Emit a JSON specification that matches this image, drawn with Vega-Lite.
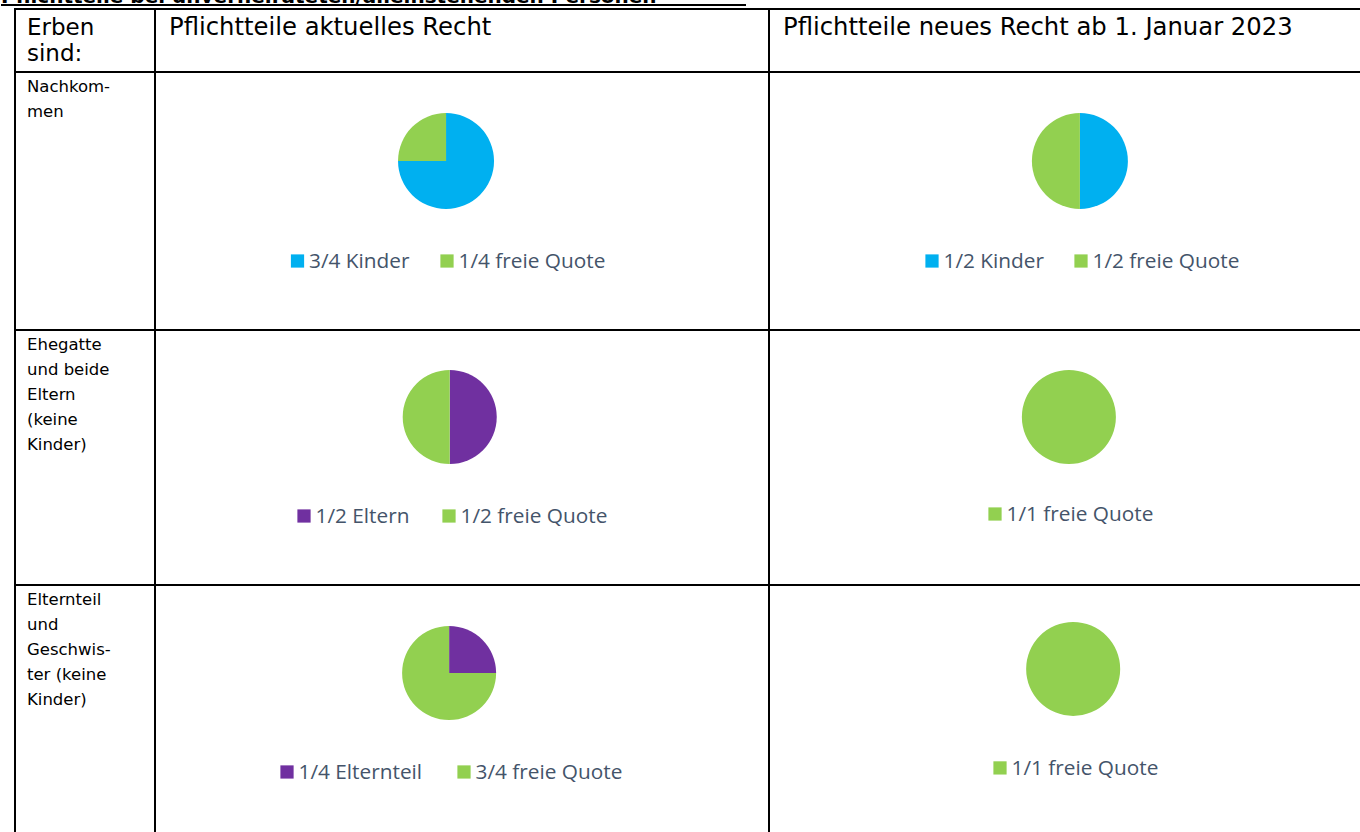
{
  "$schema": "https://vega.github.io/schema/vega-lite/v6.json",
  "padding": {"left": 0, "top": 0, "right": 0, "bottom": 0},
  "background": "#ffffff",
  "datasets": {
    "anteile": [
      {"erben": "Nachkommen", "recht": "aktuell", "nr": 1, "gruppe": "Kinder", "legende": "3/4 Kinder", "anteil": 0.75},
      {"erben": "Nachkommen", "recht": "aktuell", "nr": 2, "gruppe": "freie Quote", "legende": "1/4 freie Quote", "anteil": 0.25},
      {"erben": "Nachkommen", "recht": "neu", "nr": 1, "gruppe": "Kinder", "legende": "1/2 Kinder", "anteil": 0.5},
      {"erben": "Nachkommen", "recht": "neu", "nr": 2, "gruppe": "freie Quote", "legende": "1/2 freie Quote", "anteil": 0.5},
      {"erben": "Eltern", "recht": "aktuell", "nr": 1, "gruppe": "Eltern", "legende": "1/2 Eltern", "anteil": 0.5},
      {"erben": "Eltern", "recht": "aktuell", "nr": 2, "gruppe": "freie Quote", "legende": "1/2 freie Quote", "anteil": 0.5},
      {"erben": "Eltern", "recht": "neu", "nr": 1, "gruppe": "freie Quote", "legende": "1/1 freie Quote", "anteil": 1},
      {"erben": "Elternteil", "recht": "aktuell", "nr": 1, "gruppe": "Elternteil", "legende": "1/4 Elternteil", "anteil": 0.25},
      {"erben": "Elternteil", "recht": "aktuell", "nr": 2, "gruppe": "freie Quote", "legende": "3/4 freie Quote", "anteil": 0.75},
      {"erben": "Elternteil", "recht": "neu", "nr": 1, "gruppe": "freie Quote", "legende": "1/1 freie Quote", "anteil": 1}
    ]
  },
  "spacing": 4,
  "bounds": "flush",
  "vconcat": [
    {
      "width": 745,
      "height": 5,
      "view": {"stroke": null},
      "data": {"values": [{"titel": "Pflichtteile bei unverheirateten/alleinstehenden Personen"}]},
      "layer": [
        {
          "mark": {"type": "text", "clip": true, "align": "left", "baseline": "alphabetic", "font": "DejaVu Sans", "fontWeight": "bold", "fontSize": 20, "dy": -2, "color": "#000000"},
          "encoding": {
            "text": {"field": "titel"},
            "x": {"datum": 0, "type": "quantitative", "scale": {"domain": [0, 1]}, "axis": null},
            "y": {"datum": 0, "type": "quantitative", "scale": {"domain": [0, 1]}, "axis": null}
          }
        },
        {
          "mark": {"type": "rule", "strokeWidth": 2, "color": "#000000"},
          "encoding": {
            "y": {"datum": 0, "type": "quantitative", "scale": {"domain": [0, 1]}, "axis": null}
          }
        }
      ]
    },
    {
      "spacing": 0,
      "bounds": "flush",
      "hconcat": [
        {
          "width": 14,
          "height": 10,
          "view": {"stroke": null},
          "data": {"values": [{"leer": ""}]},
          "mark": {"type": "text"},
          "encoding": {"text": {"field": "leer"}}
        },
        {
          "columns": 3,
          "spacing": 0,
          "bounds": "flush",
          "align": "each",
          "concat": [
            {
              "width": 140, "height": 63,
              "data": {"values": [{"kopf": "Erben\nsind:"}]},
              "mark": {"type": "text", "align": "left", "baseline": "alphabetic", "font": "DejaVu Sans", "fontSize": 23, "lineHeight": 25.5, "lineBreak": "\n", "dx": 12, "dy": 26, "color": "#000000"},
              "encoding": {
                "text": {"field": "kopf"},
                "x": {"datum": 0, "type": "quantitative", "scale": {"domain": [0, 1]}, "axis": null},
                "y": {"datum": 1, "type": "quantitative", "scale": {"domain": [0, 1]}, "axis": null}
              }
            },
            {
              "width": 614, "height": 63,
              "data": {"values": [{"kopf": "Pflichtteile aktuelles Recht"}]},
              "mark": {"type": "text", "align": "left", "baseline": "alphabetic", "font": "DejaVu Sans", "fontSize": 24.3, "dx": 14, "dy": 26, "color": "#000000"},
              "encoding": {
                "text": {"field": "kopf"},
                "x": {"datum": 0, "type": "quantitative", "scale": {"domain": [0, 1]}, "axis": null},
                "y": {"datum": 1, "type": "quantitative", "scale": {"domain": [0, 1]}, "axis": null}
              }
            },
            {
              "width": 612, "height": 63,
              "data": {"values": [{"kopf": "Pflichtteile neues Recht ab 1. Januar 2023"}]},
              "mark": {"type": "text", "align": "left", "baseline": "alphabetic", "font": "DejaVu Sans", "fontSize": 24.3, "dx": 14, "dy": 26, "color": "#000000"},
              "encoding": {
                "text": {"field": "kopf"},
                "x": {"datum": 0, "type": "quantitative", "scale": {"domain": [0, 1]}, "axis": null},
                "y": {"datum": 1, "type": "quantitative", "scale": {"domain": [0, 1]}, "axis": null}
              }
            },
            {
              "width": 140, "height": 258,
              "data": {"values": [{"zeile": "Nachkom-\nmen"}]},
              "mark": {"type": "text", "align": "left", "baseline": "alphabetic", "font": "DejaVu Sans", "fontSize": 16.5, "lineHeight": 25, "lineBreak": "\n", "dx": 12, "dy": 20, "color": "#000000"},
              "encoding": {
                "text": {"field": "zeile"},
                "x": {"datum": 0, "type": "quantitative", "scale": {"domain": [0, 1]}, "axis": null},
                "y": {"datum": 1, "type": "quantitative", "scale": {"domain": [0, 1]}, "axis": null}
              }
            },
            {
              "width": 614, "height": 258,
              "data": {"name": "anteile"},
              "transform": [{"filter": "datum.erben === 'Nachkommen' && datum.recht === 'aktuell'"}],
              "resolve": {"scale": {"x": "independent"}},
              "layer": [
                {
                  "mark": {"type": "arc", "radius": 48},
                  "encoding": {
                    "theta": {"field": "anteil", "type": "quantitative", "stack": true},
                    "order": {"field": "nr", "type": "quantitative"},
                    "color": {"field": "gruppe", "type": "nominal", "scale": {"domain": ["Kinder", "Eltern", "Elternteil", "freie Quote"], "range": ["#00B0F0", "#7030A0", "#7030A0", "#92D050"]}, "legend": null},
                    "x": {"datum": "Diagramm", "type": "nominal", "scale": {"type": "point", "align": 0.474}, "axis": null},
                    "y": {"datum": "Diagramm", "type": "nominal", "scale": {"type": "point", "domain": ["Diagramm", "Legende"], "padding": 0.79, "align": 0.5633}, "axis": null}
                  }
                },
                {
                  "mark": {"type": "point", "shape": "square", "filled": true, "size": 175, "opacity": 1, "strokeWidth": 0},
                  "encoding": {
                    "x": {"field": "nr", "type": "quantitative", "scale": {"domain": [0.0468, 4.1538], "zero": false, "nice": false}, "axis": null},
                    "y": {"datum": "Legende", "type": "nominal", "axis": null},
                    "color": {"field": "gruppe", "type": "nominal", "legend": null}
                  }
                },
                {
                  "mark": {"type": "text", "align": "left", "baseline": "alphabetic", "dx": 11.5, "dy": 7, "font": "Open Sans", "fontSize": 20.8, "color": "#44546A"},
                  "encoding": {
                    "x": {"field": "nr", "type": "quantitative", "scale": {"domain": [0.0468, 4.1538], "zero": false, "nice": false}, "axis": null},
                    "y": {"datum": "Legende", "type": "nominal", "axis": null},
                    "text": {"field": "legende"}
                  }
                }
              ]
            },
            {
              "width": 612, "height": 258,
              "data": {"name": "anteile"},
              "transform": [{"filter": "datum.erben === 'Nachkommen' && datum.recht === 'neu'"}],
              "resolve": {"scale": {"x": "independent"}},
              "layer": [
                {
                  "mark": {"type": "arc", "radius": 48},
                  "encoding": {
                    "theta": {"field": "anteil", "type": "quantitative", "stack": true},
                    "order": {"field": "nr", "type": "quantitative"},
                    "color": {"field": "gruppe", "type": "nominal", "scale": {"domain": ["Kinder", "Eltern", "Elternteil", "freie Quote"], "range": ["#00B0F0", "#7030A0", "#7030A0", "#92D050"]}, "legend": null},
                    "x": {"datum": "Diagramm", "type": "nominal", "scale": {"type": "point", "align": 0.508}, "axis": null},
                    "y": {"datum": "Diagramm", "type": "nominal", "scale": {"type": "point", "domain": ["Diagramm", "Legende"], "padding": 0.79, "align": 0.5633}, "axis": null}
                  }
                },
                {
                  "mark": {"type": "point", "shape": "square", "filled": true, "size": 175, "opacity": 1, "strokeWidth": 0},
                  "encoding": {
                    "x": {"field": "nr", "type": "quantitative", "scale": {"domain": [-0.094, 4.0134], "zero": false, "nice": false}, "axis": null},
                    "y": {"datum": "Legende", "type": "nominal", "axis": null},
                    "color": {"field": "gruppe", "type": "nominal", "legend": null}
                  }
                },
                {
                  "mark": {"type": "text", "align": "left", "baseline": "alphabetic", "dx": 11.5, "dy": 7, "font": "Open Sans", "fontSize": 20.8, "color": "#44546A"},
                  "encoding": {
                    "x": {"field": "nr", "type": "quantitative", "scale": {"domain": [-0.094, 4.0134], "zero": false, "nice": false}, "axis": null},
                    "y": {"datum": "Legende", "type": "nominal", "axis": null},
                    "text": {"field": "legende"}
                  }
                }
              ]
            },
            {
              "width": 140, "height": 255,
              "data": {"values": [{"zeile": "Ehegatte\nund beide\nEltern\n(keine\nKinder)"}]},
              "mark": {"type": "text", "align": "left", "baseline": "alphabetic", "font": "DejaVu Sans", "fontSize": 16.5, "lineHeight": 25, "lineBreak": "\n", "dx": 12, "dy": 20, "color": "#000000"},
              "encoding": {
                "text": {"field": "zeile"},
                "x": {"datum": 0, "type": "quantitative", "scale": {"domain": [0, 1]}, "axis": null},
                "y": {"datum": 1, "type": "quantitative", "scale": {"domain": [0, 1]}, "axis": null}
              }
            },
            {
              "width": 614, "height": 255,
              "data": {"name": "anteile"},
              "transform": [{"filter": "datum.erben === 'Eltern' && datum.recht === 'aktuell'"}],
              "resolve": {"scale": {"x": "independent"}},
              "layer": [
                {
                  "mark": {"type": "arc", "radius": 47},
                  "encoding": {
                    "theta": {"field": "anteil", "type": "quantitative", "stack": true},
                    "order": {"field": "nr", "type": "quantitative"},
                    "color": {"field": "gruppe", "type": "nominal", "scale": {"domain": ["Kinder", "Eltern", "Elternteil", "freie Quote"], "range": ["#00B0F0", "#7030A0", "#7030A0", "#92D050"]}, "legend": null},
                    "x": {"datum": "Diagramm", "type": "nominal", "scale": {"type": "point", "align": 0.48}, "axis": null},
                    "y": {"datum": "Diagramm", "type": "nominal", "scale": {"type": "point", "domain": ["Diagramm", "Legende"], "padding": 0.788, "align": 0.5577}, "axis": null}
                  }
                },
                {
                  "mark": {"type": "point", "shape": "square", "filled": true, "size": 175, "opacity": 1, "strokeWidth": 0},
                  "encoding": {
                    "x": {"field": "nr", "type": "quantitative", "scale": {"domain": [-0.0276, 4.2069], "zero": false, "nice": false}, "axis": null},
                    "y": {"datum": "Legende", "type": "nominal", "axis": null},
                    "color": {"field": "gruppe", "type": "nominal", "legend": null}
                  }
                },
                {
                  "mark": {"type": "text", "align": "left", "baseline": "alphabetic", "dx": 11.5, "dy": 7, "font": "Open Sans", "fontSize": 20.8, "color": "#44546A"},
                  "encoding": {
                    "x": {"field": "nr", "type": "quantitative", "scale": {"domain": [-0.0276, 4.2069], "zero": false, "nice": false}, "axis": null},
                    "y": {"datum": "Legende", "type": "nominal", "axis": null},
                    "text": {"field": "legende"}
                  }
                }
              ]
            },
            {
              "width": 612, "height": 255,
              "data": {"name": "anteile"},
              "transform": [{"filter": "datum.erben === 'Eltern' && datum.recht === 'neu'"}],
              "resolve": {"scale": {"x": "independent"}},
              "layer": [
                {
                  "mark": {"type": "arc", "radius": 47},
                  "encoding": {
                    "theta": {"field": "anteil", "type": "quantitative", "stack": true},
                    "order": {"field": "nr", "type": "quantitative"},
                    "color": {"field": "gruppe", "type": "nominal", "scale": {"domain": ["Kinder", "Eltern", "Elternteil", "freie Quote"], "range": ["#00B0F0", "#7030A0", "#7030A0", "#92D050"]}, "legend": null},
                    "x": {"datum": "Diagramm", "type": "nominal", "scale": {"type": "point", "align": 0.49}, "axis": null},
                    "y": {"datum": "Diagramm", "type": "nominal", "scale": {"type": "point", "domain": ["Diagramm", "Legende"], "padding": 0.8144, "align": 0.5506}, "axis": null}
                  }
                },
                {
                  "mark": {"type": "point", "shape": "square", "filled": true, "size": 175, "opacity": 1, "strokeWidth": 0},
                  "encoding": {
                    "x": {"field": "nr", "type": "quantitative", "scale": {"domain": [-0.5067, 3.5733], "zero": false, "nice": false}, "axis": null},
                    "y": {"datum": "Legende", "type": "nominal", "axis": null},
                    "color": {"field": "gruppe", "type": "nominal", "legend": null}
                  }
                },
                {
                  "mark": {"type": "text", "align": "left", "baseline": "alphabetic", "dx": 11.5, "dy": 7, "font": "Open Sans", "fontSize": 20.8, "color": "#44546A"},
                  "encoding": {
                    "x": {"field": "nr", "type": "quantitative", "scale": {"domain": [-0.5067, 3.5733], "zero": false, "nice": false}, "axis": null},
                    "y": {"datum": "Legende", "type": "nominal", "axis": null},
                    "text": {"field": "legende"}
                  }
                }
              ]
            },
            {
              "width": 140, "height": 255,
              "data": {"values": [{"zeile": "Elternteil\nund\nGeschwis-\nter (keine\nKinder)"}]},
              "mark": {"type": "text", "align": "left", "baseline": "alphabetic", "font": "DejaVu Sans", "fontSize": 16.5, "lineHeight": 25, "lineBreak": "\n", "dx": 12, "dy": 20, "color": "#000000"},
              "encoding": {
                "text": {"field": "zeile"},
                "x": {"datum": 0, "type": "quantitative", "scale": {"domain": [0, 1]}, "axis": null},
                "y": {"datum": 1, "type": "quantitative", "scale": {"domain": [0, 1]}, "axis": null}
              }
            },
            {
              "width": 614, "height": 255,
              "data": {"name": "anteile"},
              "transform": [{"filter": "datum.erben === 'Elternteil' && datum.recht === 'aktuell'"}],
              "resolve": {"scale": {"x": "independent"}},
              "layer": [
                {
                  "mark": {"type": "arc", "radius": 47},
                  "encoding": {
                    "theta": {"field": "anteil", "type": "quantitative", "stack": true},
                    "order": {"field": "nr", "type": "quantitative"},
                    "color": {"field": "gruppe", "type": "nominal", "scale": {"domain": ["Kinder", "Eltern", "Elternteil", "freie Quote"], "range": ["#00B0F0", "#7030A0", "#7030A0", "#92D050"]}, "legend": null},
                    "x": {"datum": "Diagramm", "type": "nominal", "scale": {"type": "point", "align": 0.479}, "axis": null},
                    "y": {"datum": "Diagramm", "type": "nominal", "scale": {"type": "point", "domain": ["Diagramm", "Legende"], "padding": 0.788, "align": 0.564}, "axis": null}
                  }
                },
                {
                  "mark": {"type": "point", "shape": "square", "filled": true, "size": 175, "opacity": 1, "strokeWidth": 0},
                  "encoding": {
                    "x": {"field": "nr", "type": "quantitative", "scale": {"domain": [0.2542, 3.7231], "zero": false, "nice": false}, "axis": null},
                    "y": {"datum": "Legende", "type": "nominal", "axis": null},
                    "color": {"field": "gruppe", "type": "nominal", "legend": null}
                  }
                },
                {
                  "mark": {"type": "text", "align": "left", "baseline": "alphabetic", "dx": 11.5, "dy": 7, "font": "Open Sans", "fontSize": 20.8, "color": "#44546A"},
                  "encoding": {
                    "x": {"field": "nr", "type": "quantitative", "scale": {"domain": [0.2542, 3.7231], "zero": false, "nice": false}, "axis": null},
                    "y": {"datum": "Legende", "type": "nominal", "axis": null},
                    "text": {"field": "legende"}
                  }
                }
              ]
            },
            {
              "width": 612, "height": 255,
              "data": {"name": "anteile"},
              "transform": [{"filter": "datum.erben === 'Elternteil' && datum.recht === 'neu'"}],
              "resolve": {"scale": {"x": "independent"}},
              "layer": [
                {
                  "mark": {"type": "arc", "radius": 47},
                  "encoding": {
                    "theta": {"field": "anteil", "type": "quantitative", "stack": true},
                    "order": {"field": "nr", "type": "quantitative"},
                    "color": {"field": "gruppe", "type": "nominal", "scale": {"domain": ["Kinder", "Eltern", "Elternteil", "freie Quote"], "range": ["#00B0F0", "#7030A0", "#7030A0", "#92D050"]}, "legend": null},
                    "x": {"datum": "Diagramm", "type": "nominal", "scale": {"type": "point", "align": 0.497}, "axis": null},
                    "y": {"datum": "Diagramm", "type": "nominal", "scale": {"type": "point", "domain": ["Diagramm", "Legende"], "padding": 0.788, "align": 0.538}, "axis": null}
                  }
                },
                {
                  "mark": {"type": "point", "shape": "square", "filled": true, "size": 175, "opacity": 1, "strokeWidth": 0},
                  "encoding": {
                    "x": {"field": "nr", "type": "quantitative", "scale": {"domain": [-0.54, 3.54], "zero": false, "nice": false}, "axis": null},
                    "y": {"datum": "Legende", "type": "nominal", "axis": null},
                    "color": {"field": "gruppe", "type": "nominal", "legend": null}
                  }
                },
                {
                  "mark": {"type": "text", "align": "left", "baseline": "alphabetic", "dx": 11.5, "dy": 7, "font": "Open Sans", "fontSize": 20.8, "color": "#44546A"},
                  "encoding": {
                    "x": {"field": "nr", "type": "quantitative", "scale": {"domain": [-0.54, 3.54], "zero": false, "nice": false}, "axis": null},
                    "y": {"datum": "Legende", "type": "nominal", "axis": null},
                    "text": {"field": "legende"}
                  }
                }
              ]
            }
          ]
        }
      ]
    }
  ],
  "config": {
    "view": {"stroke": "#000000", "strokeWidth": 2},
    "concat": {"spacing": 0}
  }
}
